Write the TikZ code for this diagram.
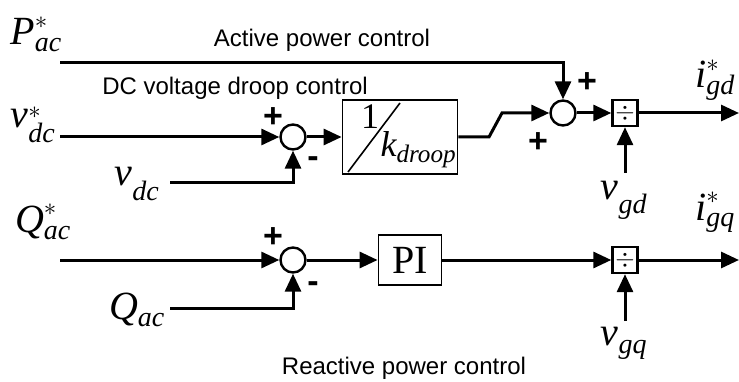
\documentclass[tikz,border=0pt]{standalone}
\usepackage{amsmath}
\usepackage{fontspec}
\setmainfont{Liberation Serif}
\newfontfamily\arialfont{Liberation Sans}
\usetikzlibrary{arrows.meta}
% italic Times-like variable with sub- and superscript
\newcommand{\mvar}[3]{$\textit{#1}_{\textit{#2}}^{#3}$}

\begin{document}
\begin{tikzpicture}[x=1pt, y=-1pt,
        sumnode/.style={circle, draw, line width=2.4pt, inner sep=0pt, minimum size=25pt},
        blk/.style={draw, line width=1.8pt, inner sep=0pt},
        divnode/.style={draw, line width=2.4pt, inner sep=0pt, minimum width=25pt, minimum height=26pt,
          font=\fontsize{34}{34}\selectfont},
        sig/.style={line width=3pt, -{Triangle[length=18pt, width=16pt]}},
        var/.style={font=\fontsize{40}{40}\selectfont},
        txt/.style={font=\fontsize{24}{26}\selectfont\arialfont},
        sgn/.style={font=\fontsize{34}{34}\selectfont\arialfont\bfseries}
      ]
      \useasboundingbox (0,0) rectangle (739,382);
      % upper side
      \node[sumnode] at (293,137) (s1) {};
      \node[blk, minimum width=115pt, minimum height=74pt] at (400,137) (droop) {};
      \node[sumnode] at (563,113) (s2) {};
      \node[divnode] at (625,113) (d1) {$\div$};
      \coordinate (p0) at (60,63);
      \coordinate (v0) at (60,137);
      \coordinate (v1) at (170,183);
      \coordinate (k1) at (489,137);
      \coordinate (k2) at (502,113);
      \coordinate (vgd0) at (625,173);
      \coordinate (id0) at (739,113);
      % edges
      \draw[sig] (p0) -| (s2.north);
      \draw[sig] (v0) -- (s1.west);
      \draw[sig] (v1) -| (s1.south);
      \draw[sig] (s1.east) -- (droop.west);
      \draw[sig] (droop.east) -- (k1) -- (k2) -- (s2.west);
      \draw[sig] (s2.east) -- (d1.west);
      \draw[sig] (vgd0) -- (d1.south);
      \draw[sig] (d1.east) -- (id0);
      % gain 1/k
      \draw[line width=1.6pt] (348,172) -- (400,103);
      \node[font=\fontsize{36}{36}\selectfont] at (370,117) (one) {1};
      \node[font=\fontsize{36}{36}\selectfont, anchor=west] at (377,150) (kd) {\mvar{k}{droop}{}};
      % labels
      \node[var] at (36,34) (pref) {\mvar{P}{ac}{*}};
      \node[var] at (33,125) (vref) {\mvar{v}{dc}{*}};
      \node[var] at (137,184) (vdc) {\mvar{v}{dc}{}};
      \node[var] at (624,200) (vgd) {\mvar{v}{gd}{}};
      \node[var] at (715,80) (igd) {\mvar{i}{gd}{*}};
      \node[txt] at (322,40) (act) {Active power control};
      \node[txt] at (235,88) (dcv) {DC voltage droop control};
      \node[sgn] at (273,118) {+};
      \node[sgn] at (313,162) {-};
      \node[sgn] at (538,143) {+};
      \node[sgn] at (587,83) {+};

      % lower side
      \node[sumnode] at (293,260) (s3) {};
      \node[blk, minimum width=63pt, minimum height=50pt, font=\fontsize{40}{40}\selectfont] at (410,260) (pi) {PI};
      \node[divnode] at (625,260) (d2) {$\div$};
      \coordinate (q0) at (60,260);
      \coordinate (q1) at (170,308);
      \coordinate (vgq0) at (625,321);
      \coordinate (iq0) at (739,260);
      % edges
      \draw[sig] (q0) -- (s3.west);
      \draw[sig] (q1) -| (s3.south);
      \draw[sig] (s3.east) -- (pi.west);
      \draw[sig] (pi.east) -- (d2.west);
      \draw[sig] (vgq0) -- (d2.south);
      \draw[sig] (d2.east) -- (iq0);
      % labels
      \node[var] at (43,222) (qref) {\mvar{Q}{ac}{*}};
      \node[var] at (137,310) (qac) {\mvar{Q}{ac}{}};
      \node[var] at (624,343) (vgq) {\mvar{v}{gq}{}};
      \node[var] at (715,212) (igq) {\mvar{i}{gq}{*}};
      \node[txt] at (404,368) (rea) {Reactive power control};
      \node[sgn] at (273,238) {+};
      \node[sgn] at (313,287) {-};
  \end{tikzpicture}
\end{document}
